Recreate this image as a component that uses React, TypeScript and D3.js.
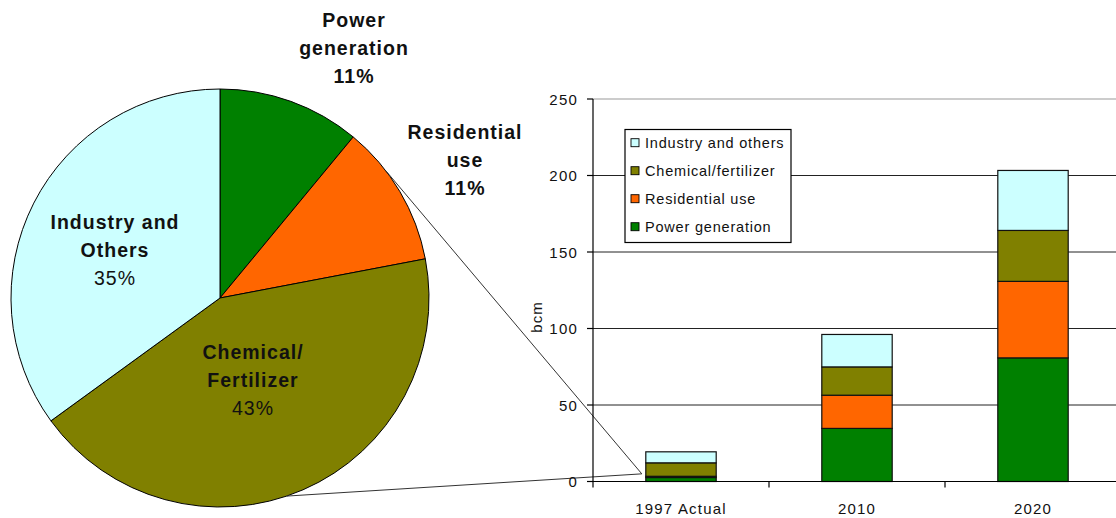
import React from "react";
import * as d3 from "d3";

// ---- data ----
const categories = ["1997 Actual", "2010", "2020"];
const powerGeneration = [2.6, 34.7, 80.8];
const residentialUse = [0.8, 21.7, 50.0];
const chemicalFertilizer = [8.8, 18.5, 33.3];
const industryOthers = [7.2, 21.2, 39.2];
const yTicks = [0, 50, 100, 150, 200, 250];

const seriesKeys = ["power", "residential", "chemical", "industry"];
const legendLabels = ["Industry and others", "Chemical/fertilizer", "Residential use", "Power generation"];
const legendKeys = ["industry", "chemical", "residential", "power"];

const pieShares = [11, 11, 43, 35];
const pieKeys = ["power", "residential", "chemical", "industry"];
const pieLabelLines = [
  ["Power", "generation", "11%"],
  ["Residential", "use", "11%"],
  ["Chemical/", "Fertilizer", "43%"],
  ["Industry and", "Others", "35%"],
];

// ---- style / layout ----
const COLORS: Record<string, string> = {
  power: "#008000",
  residential: "#FF6600",
  chemical: "#808000",
  industry: "#CCFFFF",
};
const FONT = "Arial, 'Liberation Sans', sans-serif";
const W = 1116;
const H = 518;

const PIE_CX = 220;
const PIE_CY = 298;
const PIE_R = 209;
const pieLabelPos = [
  { x: 354, y: 48, pctBold: true },
  { x: 465, y: 160, pctBold: true },
  { x: 253, y: 380, pctBold: false },
  { x: 115, y: 250, pctBold: false },
];
const LINE_H = 28.4;

const PLOT_LEFT = 593;
const STEP = 176;
const PLOT_TOP = 99;
const PLOT_BOTTOM = 481.5;

export default function App() {
  const x = d3
    .scaleBand<string>()
    .domain(categories)
    .range([PLOT_LEFT, PLOT_LEFT + STEP * categories.length])
    .paddingInner(0.6)
    .paddingOuter(0.3);
  const y = d3.scaleLinear().domain([0, 250]).range([PLOT_BOTTOM, PLOT_TOP]);

  const table = categories.map((c, i) => ({
    category: c,
    power: powerGeneration[i],
    residential: residentialUse[i],
    chemical: chemicalFertilizer[i],
    industry: industryOthers[i],
  }));
  const stacked = d3.stack<any>().keys(seriesKeys)(table);

  const pie = d3.pie<number>().sort(null).value((d) => d)(pieShares);
  const arc = d3.arc<d3.PieArcDatum<number>>().innerRadius(0).outerRadius(PIE_R);

  // connector lines from the pie to the 1997 bar
  const connEnd: [number, number] = [(x(categories[0]) as number) - 4, y(5)];
  const connAngles = [52.4, 161.4].map((a) => (a * Math.PI) / 180);
  const connStarts = connAngles.map((a) => [PIE_CX + PIE_R * Math.sin(a), PIE_CY - PIE_R * Math.cos(a)]);

  const boundaries = d3.range(categories.length + 1).map((i) => PLOT_LEFT + i * STEP);

  return (
    <div style={{ position: "absolute", left: 0, top: 0 }}>
      <svg width={W} height={H} style={{ display: "block", background: "#fff" }} fontFamily={FONT}>
        <rect x={0} y={0} width={W} height={H} fill="#fff" />

        {/* pie */}
        <g transform={`translate(${PIE_CX},${PIE_CY})`}>
          {pie.map((p, i) => (
            <path key={i} d={arc(p) as string} fill={COLORS[pieKeys[i]]} stroke="#000" strokeWidth={1} />
          ))}
        </g>

        {/* pie labels */}
        {pieLabelLines.map((lines, i) => (
          <g key={i}>
            {lines.map((t, j) => (
              <text
                key={j}
                x={pieLabelPos[i].x}
                y={pieLabelPos[i].y + (j - 1) * LINE_H}
                textAnchor="middle"
                dominantBaseline="central"
                fontSize={19.5}
                letterSpacing={1}
                fontWeight={j === 2 && !pieLabelPos[i].pctBold ? "normal" : "bold"}
                fill="#111"
              >
                {t}
              </text>
            ))}
          </g>
        ))}

        {/* gridlines */}
        {yTicks
          .filter((t) => t > 0)
          .map((t) => (
            <line
              key={t}
              x1={PLOT_LEFT}
              x2={W}
              y1={y(t)}
              y2={y(t)}
              stroke={t === 250 ? "#999" : "#222"}
              strokeWidth={1}
            />
          ))}

        {/* connectors */}
        {connStarts.map((s, i) => (
          <line key={i} x1={s[0]} y1={s[1]} x2={connEnd[0]} y2={connEnd[1]} stroke="#333" strokeWidth={1} />
        ))}

        {/* bars */}
        {stacked.map((layer) =>
          layer.map((d, i) => (
            <rect
              key={layer.key + i}
              x={x(categories[i])}
              width={x.bandwidth()}
              y={y(d[1])}
              height={y(d[0]) - y(d[1])}
              fill={COLORS[layer.key]}
              stroke="#111"
              strokeWidth={1.2}
            />
          ))
        )}

        {/* y axis */}
        <line x1={PLOT_LEFT} x2={PLOT_LEFT} y1={PLOT_TOP} y2={PLOT_BOTTOM} stroke="#000" strokeWidth={1.2} />
        {yTicks.map((t) => (
          <g key={t}>
            <line x1={PLOT_LEFT - 6} x2={PLOT_LEFT} y1={y(t)} y2={y(t)} stroke="#000" strokeWidth={1.2} />
            <text
              x={PLOT_LEFT - 15}
              y={y(t)}
              textAnchor="end"
              dominantBaseline="central"
              fontSize={15}
              letterSpacing={1.2}
              fill="#111"
            >
              {t}
            </text>
          </g>
        ))}
        <text
          transform={`translate(536,317) rotate(-90)`}
          textAnchor="middle"
          dominantBaseline="central"
          fontSize={15}
          letterSpacing={1}
          fill="#111"
        >
          bcm
        </text>

        {/* x axis */}
        <line x1={PLOT_LEFT} x2={W} y1={PLOT_BOTTOM} y2={PLOT_BOTTOM} stroke="#000" strokeWidth={1.2} />
        {boundaries.map((b, i) => (
          <line key={i} x1={b} x2={b} y1={PLOT_BOTTOM} y2={PLOT_BOTTOM + 6} stroke="#000" strokeWidth={1.2} />
        ))}
        {categories.map((c) => (
          <text
            key={c}
            x={(x(c) as number) + x.bandwidth() / 2}
            y={508}
            textAnchor="middle"
            dominantBaseline="central"
            fontSize={15}
            letterSpacing={1.2}
            fill="#111"
          >
            {c}
          </text>
        ))}

        {/* legend */}
        <rect x={625} y={129.5} width={166} height={113} fill="#fff" stroke="#000" strokeWidth={1.2} />
        {legendLabels.map((lab, i) => (
          <g key={lab} transform={`translate(631,${142.7 + i * 28})`}>
            <rect x={0} y={-4} width={8} height={8} fill={COLORS[legendKeys[i]]} stroke="#000" strokeWidth={0.9} />
            <text x={14} y={0} dominantBaseline="central" fontSize={14.5} letterSpacing={0.8} fill="#111">
              {lab}
            </text>
          </g>
        ))}
      </svg>
    </div>
  );
}
